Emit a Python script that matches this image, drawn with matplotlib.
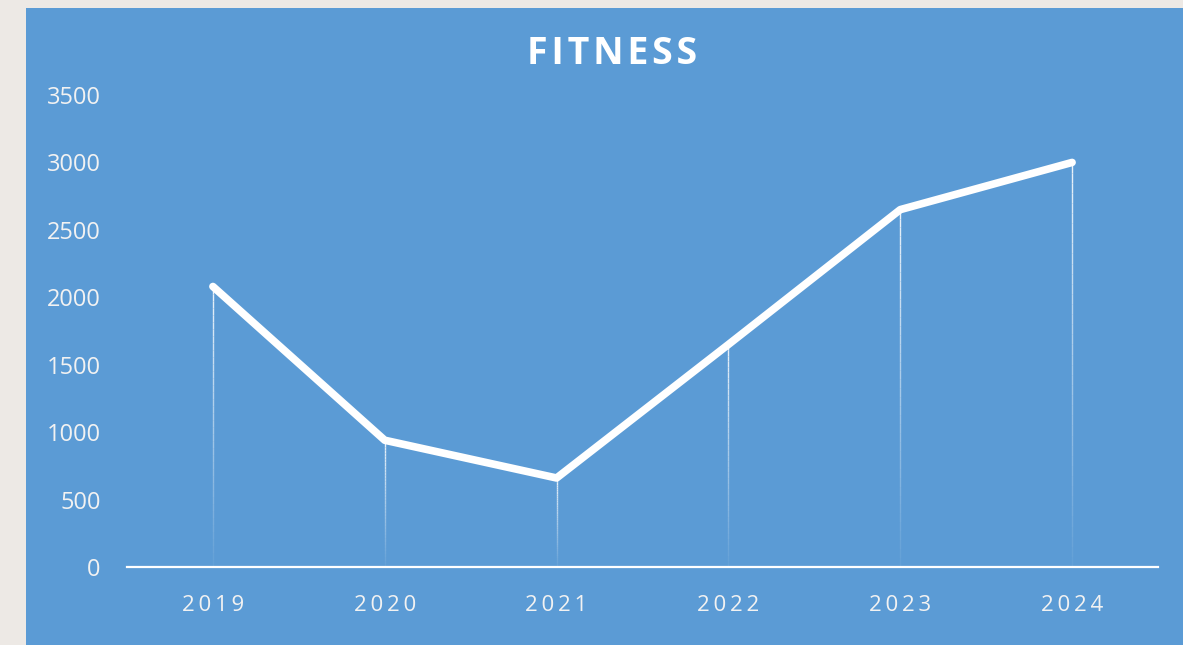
import matplotlib
matplotlib.use('Agg')
import matplotlib.pyplot as plt
from matplotlib.patches import Rectangle
import numpy as np

years = ['2019', '2020', '2021', '2022', '2023', '2024']
values = [2080, 940, 660, 1650, 2650, 3000]

BLUE = '#5B9BD5'
plt.rcParams['font.family'] = ['Open Sans', 'DejaVu Sans']

fig = plt.figure(figsize=(11.83, 6.45), dpi=100, facecolor='#EDE9E5')
# blue chart panel
fig.patches.append(Rectangle((26 / 1183, 0), 1, (645 - 8) / 645, transform=fig.transFigure,
                             facecolor=BLUE, edgecolor='none', zorder=-1))

ax = fig.add_axes([127 / 1183, 78 / 645, 1031 / 1183, 472 / 645])
ax.set_facecolor('none')

x = np.arange(len(years))

# drop lines, fading towards the axis
n_seg = 40
for xi, v in zip(x, values):
    edges = np.linspace(0, v, n_seg + 1)
    for k in range(n_seg):
        a = 0.05 + 0.85 * (k / n_seg) ** 1.0
        ax.plot([xi, xi], [edges[k], edges[k + 1]], color='white', lw=1.0, alpha=a,
                solid_capstyle='butt', zorder=2)

ax.plot(x, values, color='white', lw=5.5, solid_capstyle='round', solid_joinstyle='round', zorder=3)

ax.set_xlim(-0.5, len(years) - 0.5)
ax.set_ylim(0, 3500)
ax.set_yticks(np.arange(0, 3501, 500))
ax.set_xticks(x)
ax.set_xticklabels(['\u2009'.join(y) for y in years])

for s in ['top', 'right', 'left']:
    ax.spines[s].set_visible(False)
ax.spines['bottom'].set_color('white')
ax.spines['bottom'].set_linewidth(1.6)
ax.tick_params(axis='both', length=0, labelcolor='#F2F2F2')
ax.tick_params(axis='y', pad=19, labelsize=17)
ax.tick_params(axis='x', pad=20, labelsize=16)

fig.text(612 / 1183, 1 - 54 / 645, '\u200a'.join('FITNESS'), color='white', fontsize=27,
         fontweight='bold', ha='center', va='center')

fig.savefig('out.png', dpi=100, facecolor=fig.get_facecolor())
